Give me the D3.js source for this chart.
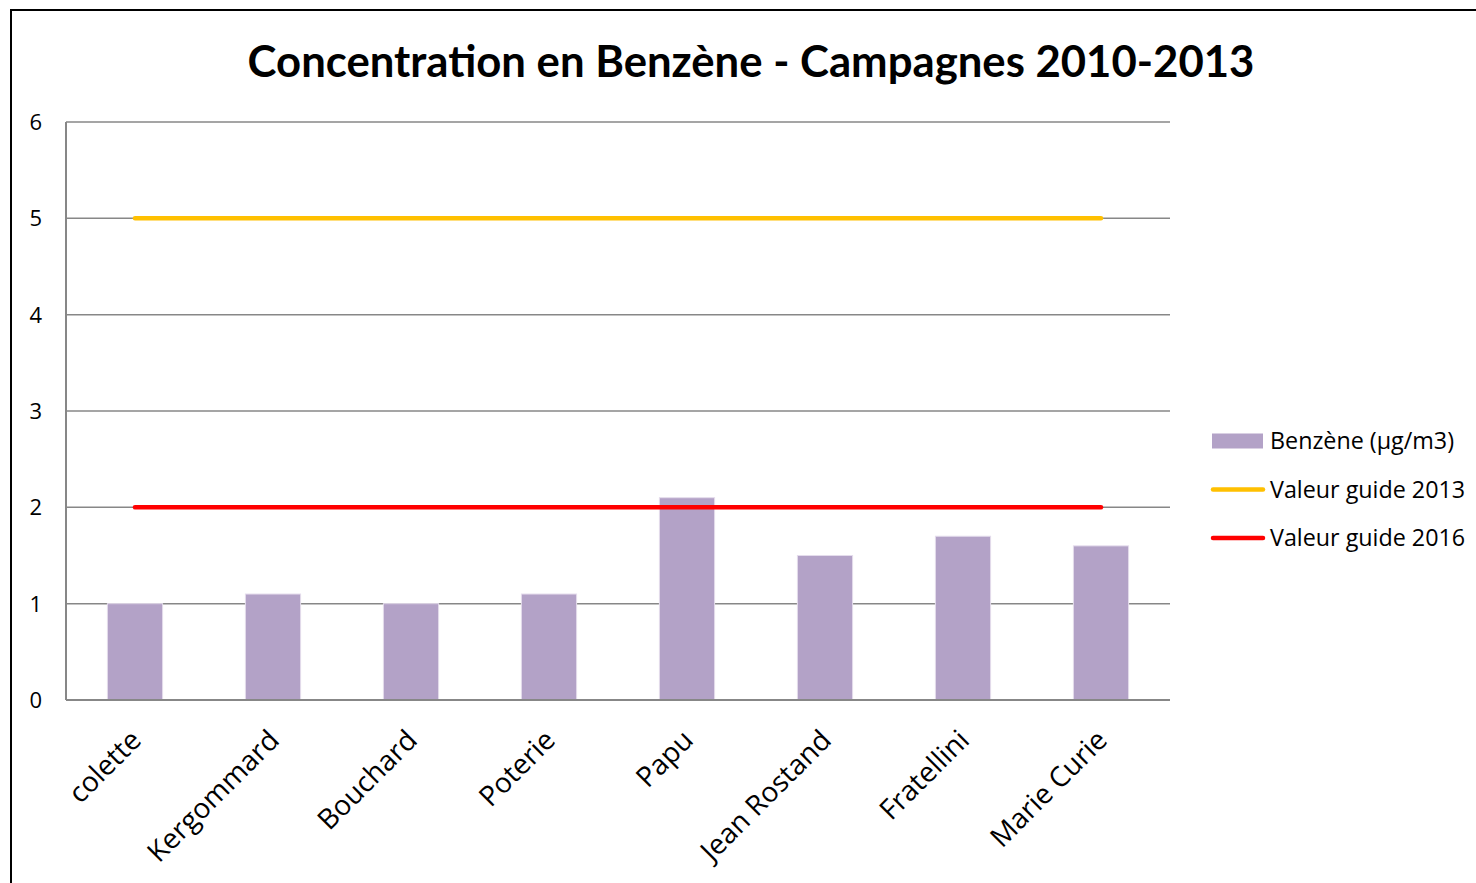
<!DOCTYPE html>
<html>
<head>
<meta charset="utf-8">
<script src="https://cdn.jsdelivr.net/npm/d3@7"></script>
<style>
  body { margin: 0; background: #fff; }
  svg { display: block; font-family: "Open Sans", Lato, sans-serif; }
</style>
</head>
<body>
<div id="chart"></div>
<script>
// chart data
const categories = ["colette", "Kergommard", "Bouchard", "Poterie", "Papu", "Jean Rostand", "Fratellini", "Marie Curie"];
const benzene = [1.0, 1.1, 1.0, 1.1, 2.1, 1.5, 1.7, 1.6];
const guide2013 = [5, 5, 5, 5, 5, 5, 5, 5];
const guide2016 = [2, 2, 2, 2, 2, 2, 2, 2];
const yTicks = [0, 1, 2, 3, 4, 5, 6];
const legendLabels = ["Benzène (µg/m3)", "Valeur guide 2013", "Valeur guide 2016"];

const width = 1476, height = 883;
const margin = { top: 122, left: 66, right: 306, bottom: 183 };

const svg = d3.select("#chart").append("svg")
    .attr("width", width)
    .attr("height", height);

// outer frame of the chart object
svg.append("rect")
    .attr("x", 11).attr("y", 10)
    .attr("width", 1600).attr("height", 1000)
    .attr("fill", "none")
    .attr("stroke", "#000")
    .attr("stroke-width", 2);

const title = svg.append("text")
    .attr("x", 751).attr("y", 77)
    .attr("text-anchor", "middle")
    .attr("font-weight", "bold")
    .attr("font-family", "Lato, sans-serif")
    .attr("font-size", 42)
    .text("Concentration en Benzène - Campagnes 2010-2013");
// fit title width to the original
const tw = title.node().getComputedTextLength();
title.attr("font-size", 42 * 1007 / tw);

const x = d3.scaleBand()
    .domain(categories)
    .range([margin.left, width - margin.right])
    .paddingInner(0.6)
    .paddingOuter(0.3);

const y = d3.scaleLinear()
    .domain([0, 6])
    .range([height - margin.bottom, margin.top]);

// gridlines
svg.append("g")
    .selectAll("line")
    .data(yTicks.filter(d => d > 0))
    .join("line")
    .attr("x1", margin.left).attr("x2", width - margin.right)
    .attr("y1", d => y(d)).attr("y2", d => y(d))
    .attr("stroke", "#878787")
    .attr("stroke-width", 1.5);

// y tick labels
svg.append("g")
    .selectAll("text")
    .data(yTicks)
    .join("text")
    .attr("x", 42)
    .attr("y", d => y(d))
    .attr("dy", "0.36em")
    .attr("text-anchor", "end")
    .attr("font-size", 22)
    .text(d => d);

// bars
svg.append("g")
    .selectAll("rect")
    .data(benzene)
    .join("rect")
    .attr("x", (d, i) => x(categories[i]))
    .attr("y", d => y(d))
    .attr("width", x.bandwidth())
    .attr("height", d => y(0) - y(d))
    .attr("fill", "#b3a2c7")
    .attr("stroke", "#e4dcec")
    .attr("stroke-width", 1);

// axes lines
svg.append("line")
    .attr("x1", margin.left).attr("x2", margin.left)
    .attr("y1", y(6)).attr("y2", y(0))
    .attr("stroke", "#878787").attr("stroke-width", 2);
svg.append("line")
    .attr("x1", margin.left).attr("x2", width - margin.right)
    .attr("y1", y(0)).attr("y2", y(0))
    .attr("stroke", "#878787").attr("stroke-width", 2);

// guide value lines
const line = d3.line()
    .x((d, i) => x(categories[i]) + x.bandwidth() / 2)
    .y(d => y(d));

[[guide2013, "#ffc000"], [guide2016, "#ff0000"]].forEach(([vals, color]) => {
    svg.append("path")
        .datum(vals)
        .attr("d", line)
        .attr("fill", "none")
        .attr("stroke", color)
        .attr("stroke-width", 4.5)
        .attr("stroke-linecap", "round");
});

// x labels
svg.append("g")
    .selectAll("text")
    .data(categories)
    .join("text")
    .attr("transform", d => `translate(${x(d) + x.bandwidth() / 2 + 1},${y(0) + 35}) rotate(-45)`)
    .attr("text-anchor", "end")
    .attr("dy", "0.35em")
    .attr("font-size", 28)
    .text(d => d);

// legend
const legend = svg.append("g").attr("transform", "translate(1212,441)");
const items = legend.selectAll("g")
    .data(legendLabels)
    .join("g")
    .attr("transform", (d, i) => `translate(0,${i * 48.5})`);

items.each(function(d, i) {
    const g = d3.select(this);
    if (i === 0) {
        g.append("rect")
            .attr("x", 0).attr("y", -7.5)
            .attr("width", 51).attr("height", 15)
            .attr("fill", "#b3a2c7");
    } else {
        g.append("line")
            .attr("x1", 1).attr("x2", 51)
            .attr("y1", 0).attr("y2", 0)
            .attr("stroke", i === 1 ? "#ffc000" : "#ff0000")
            .attr("stroke-width", 4.5)
            .attr("stroke-linecap", "round");
    }
    g.append("text")
        .attr("x", 58)
        .attr("dy", "0.36em")
        .attr("font-size", 23.3)
        .text(d);
});
</script>
</body>
</html>
